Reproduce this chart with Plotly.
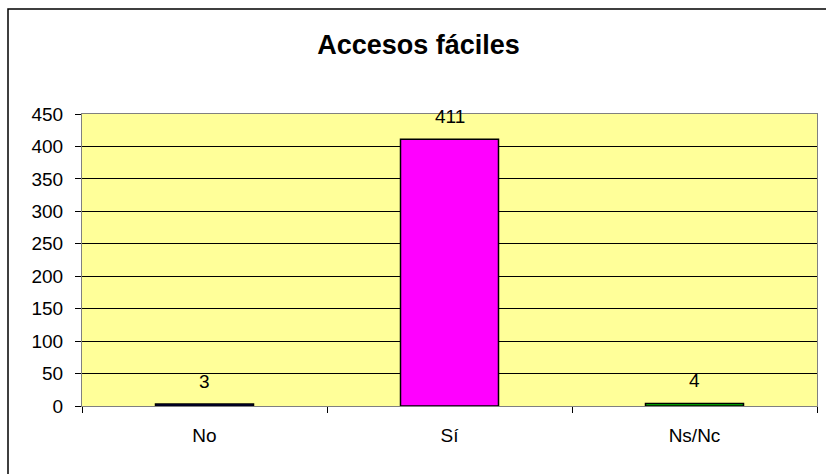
import plotly.graph_objects as go

categories = ["No", "Sí", "Ns/Nc"]
values = [3, 411, 4]
colors = ["#000080", "#FF00FF", "#00CC00"]
title = "Accesos fáciles"
y_ticks = [0, 50, 100, 150, 200, 250, 300, 350, 400, 450]

FONT = "Liberation Sans, Arial"
FS = 19

fig = go.Figure()
fig.add_trace(go.Bar(
    x=categories, y=values,
    marker=dict(color=colors, line=dict(color="black", width=1.5)),
    width=0.4, showlegend=False, hoverinfo="skip",
))

for c, v in zip(categories, values):
    fig.add_annotation(x=c, y=v, text=str(v), showarrow=False, yshift=23,
                       font=dict(family=FONT, size=FS, color="black"))

L, R, T, B = 82, 9, 114, 68
W, H = 826, 474
pw, ph = W - L - R, H - T - B
# outer chart border (left and top visible)
x0 = (8 - L) / pw
y1 = (H - B - 9) / ph
x1 = (W + 4 - L) / pw
y0 = (H - B - (H + 4)) / ph
fig.add_shape(type="rect", xref="paper", yref="paper", x0=x0, x1=x1, y0=y0, y1=y1,
              line=dict(color="black", width=1.5), layer="below")

fig.update_layout(
    width=W, height=H,
    margin=dict(l=L, r=R, t=T, b=B),
    paper_bgcolor="white",
    plot_bgcolor="#FFFF99",
    title=dict(text="<b>" + title + "</b>", x=418.5 / W, xanchor="center", y=1 - 45 / H, yanchor="middle",
               font=dict(family=FONT, size=27, color="black")),
    font=dict(family=FONT, size=FS, color="black"),
    bargap=0.6,
)
fig.update_yaxes(range=[0, 450], tickvals=y_ticks, showgrid=True, gridcolor="black", gridwidth=1,
                 showline=True, linecolor="#808080", linewidth=1, mirror=True,
                 ticks="outside", ticklen=6, tickcolor="black", ticklabelstandoff=8,
                 zeroline=False, fixedrange=True)
fig.update_xaxes(showline=True, linecolor="#808080", linewidth=1, mirror=True,
                 ticks="outside", ticklen=6, tickcolor="black", tickson="boundaries",
                 ticklabelstandoff=12, showgrid=False, fixedrange=True)

fig.write_html("out.html", config={"displayModeBar": False},
               post_script="document.body.style.margin='0px';")
